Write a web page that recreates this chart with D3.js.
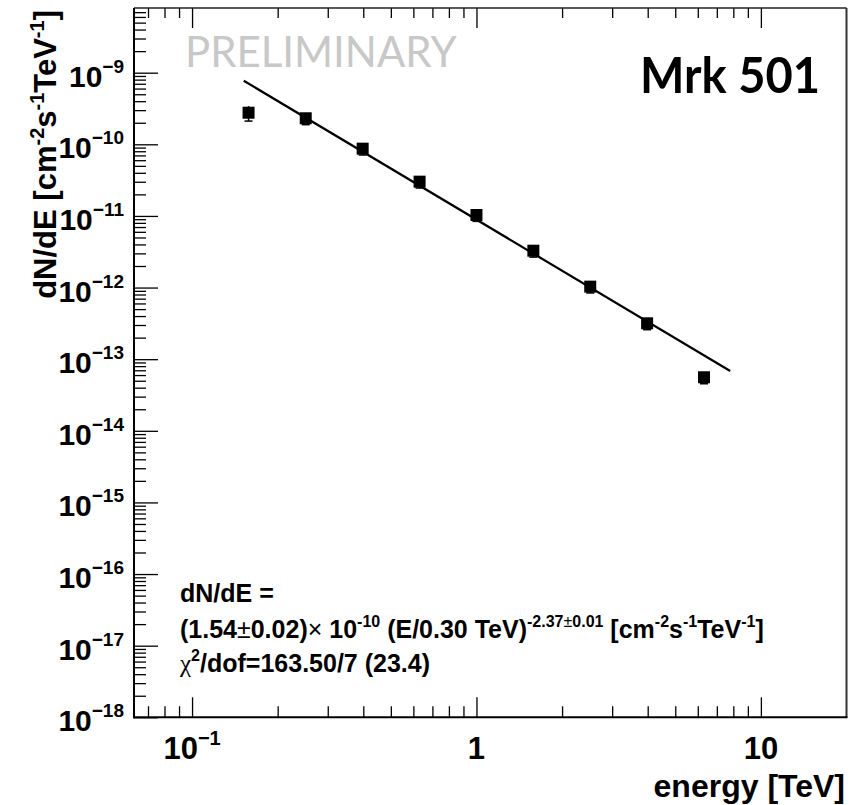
<!DOCTYPE html>
<html>
<head>
<meta charset="utf-8">
<script src="https://cdn.jsdelivr.net/npm/d3@7"></script>
<style>
  body { margin: 0; background: #fff; }
  svg { display: block; }
</style>
</head>
<body>
<svg id="chart" width="858" height="805"></svg>
<script>
// Mrk 501 differential energy spectrum
const energy   = [0.158, 0.251, 0.398, 0.631, 1.0, 1.585, 2.512, 3.981, 6.310];          // TeV
const flux     = [2.76e-10, 2.31e-10, 8.69e-11, 3.01e-11, 1.03e-11, 3.27e-12, 1.03e-12, 3.17e-13, 5.59e-14];
const fluxErr  = [0.65e-10, 0.43e-10, 1.6e-11, 5.6e-12, 1.9e-12, 6.1e-13, 1.9e-13, 5.9e-14, 1.05e-14];

// power-law fit, as printed in the fit box
const fitNorm  = 1.54e-10;
const fitE0    = 0.30;
const fitIndex = 2.37;
const fitRange = [0.152, 7.8];

const xMajorTicks = [0.1, 1, 10];
const xMajorLabels = [["10", "\u22121"], ["1", ""], ["10", ""]];
const yMajorExponents = [-18, -17, -16, -15, -14, -13, -12, -11, -10, -9];

const svg = d3.select("#chart");
const plot = { left: 134, right: 846.5, top: 8, bottom: 717.3 };

const x = d3.scaleLog().domain([0.0625, 20]).range([plot.left, plot.right]);
const y = d3.scaleLog().domain([1e-18, 8e-9]).range([plot.bottom, plot.top]);

// minor ticks: 2..9 within each decade
function minorTicks(scale) {
  const [d0, d1] = scale.domain();
  const out = [];
  for (let e = Math.floor(Math.log10(d0)); e <= Math.ceil(Math.log10(d1)); e++) {
    for (let k = 2; k <= 9; k++) {
      const v = k * Math.pow(10, e);
      if (v > d0 * 1.0001 && v < d1 * 0.9999) out.push(v);
    }
  }
  return out;
}
const yMajor = yMajorExponents.map(e => Math.pow(10, e));
const xMinor = minorTicks(x);
const yMinor = minorTicks(y);

const FONT = "'Liberation Sans', Arial, Helvetica, sans-serif";

function styleAxis(g) {
  g.selectAll(".tick line").attr("stroke", "#000").attr("stroke-width", 1.3);
  g.select(".domain").remove();
  g.selectAll("text").remove();
}

// bottom axis (ticks pointing up into the frame)
svg.append("g").attr("transform", `translate(0,${plot.bottom})`)
  .call(d3.axisBottom(x).tickValues(xMajorTicks).tickSizeInner(-20).tickSizeOuter(0).tickFormat(""))
  .call(styleAxis);
svg.append("g").attr("transform", `translate(0,${plot.bottom})`)
  .call(d3.axisBottom(x).tickValues(xMinor).tickSizeInner(-11).tickSizeOuter(0).tickFormat(""))
  .call(styleAxis);
// top axis (ticks pointing down)
svg.append("g").attr("transform", `translate(0,${plot.top})`)
  .call(d3.axisTop(x).tickValues(xMajorTicks).tickSizeInner(-20).tickSizeOuter(0).tickFormat(""))
  .call(styleAxis);
svg.append("g").attr("transform", `translate(0,${plot.top})`)
  .call(d3.axisTop(x).tickValues(xMinor).tickSizeInner(-10).tickSizeOuter(0).tickFormat(""))
  .call(styleAxis);
// left axis (ticks pointing right)
svg.append("g").attr("transform", `translate(${plot.left},0)`)
  .call(d3.axisLeft(y).tickValues(yMajor).tickSizeInner(-24).tickSizeOuter(0).tickFormat(""))
  .call(styleAxis);
svg.append("g").attr("transform", `translate(${plot.left},0)`)
  .call(d3.axisLeft(y).tickValues(yMinor).tickSizeInner(-12).tickSizeOuter(0).tickFormat(""))
  .call(styleAxis);

// frame
svg.append("line").attr("x1", plot.left).attr("x2", plot.right).attr("y1", plot.top).attr("y2", plot.top)
  .attr("stroke", "#222").attr("stroke-width", 1.5);
svg.append("line").attr("x1", plot.right).attr("x2", plot.right).attr("y1", plot.top).attr("y2", plot.bottom)
  .attr("stroke", "#333").attr("stroke-width", 2);
svg.append("line").attr("x1", plot.left).attr("x2", plot.left).attr("y1", plot.top).attr("y2", plot.bottom + 1)
  .attr("stroke", "#000").attr("stroke-width", 2);
svg.append("line").attr("x1", plot.left - 1).attr("x2", plot.right + 1).attr("y1", plot.bottom).attr("y2", plot.bottom)
  .attr("stroke", "#000").attr("stroke-width", 2);

// y tick labels 10^n
yMajorExponents.forEach(e => {
  const yy = y(Math.pow(10, e));
  const t = svg.append("text").attr("x", 124).attr("y", yy + 14)
    .attr("text-anchor", "end").attr("font-family", FONT).attr("font-weight", "bold")
    .attr("font-size", 30).attr("fill", "#000");
  t.append("tspan").text("10");
  t.append("tspan").attr("dy", -14).attr("font-size", 19).text("\u2212" + Math.abs(e));
});

// x tick labels
xMajorTicks.forEach((v, i) => {
  const [base, sup] = xMajorLabels[i];
  const t = svg.append("text").attr("x", x(v)).attr("y", 759)
    .attr("text-anchor", "middle").attr("font-family", FONT).attr("font-weight", "bold")
    .attr("font-size", 31).attr("fill", "#000");
  t.append("tspan").text(base);
  if (sup) t.append("tspan").attr("dy", -14).attr("font-size", 20).text(sup);
});

// axis titles
const yTitle = svg.append("text")
  .attr("transform", "translate(56,10) rotate(-90)")
  .attr("text-anchor", "end").attr("font-family", FONT).attr("font-weight", "bold")
  .attr("font-size", 31).attr("fill", "#000");
yTitle.append("tspan").text("dN/dE [cm");
yTitle.append("tspan").attr("dy", -12).attr("font-size", 20).text("-2");
yTitle.append("tspan").attr("dy", 12).text("s");
yTitle.append("tspan").attr("dy", -12).attr("font-size", 20).text("-1");
yTitle.append("tspan").attr("dy", 12).text("TeV");
yTitle.append("tspan").attr("dy", -12).attr("font-size", 20).text("-1");
yTitle.append("tspan").attr("dy", 12).text("]");

svg.append("text").attr("x", 845).attr("y", 797).attr("text-anchor", "end")
  .attr("font-family", FONT).attr("font-weight", "bold").attr("font-size", 32).attr("fill", "#000")
  .text("energy [TeV]");

// watermark and source name
svg.append("text").attr("x", 185).attr("y", 67)
  .attr("font-family", "Lato, 'Open Sans', sans-serif").attr("font-size", 42).attr("fill", "#c8c8c8")
  .text("PRELIMINARY");
svg.append("text").attr("x", 820).attr("y", 93).attr("text-anchor", "end")
  .attr("font-family", "Lato, 'Open Sans', sans-serif").attr("font-weight", "bold").attr("font-size", 50).attr("fill", "#000")
  .attr("textLength", 180).attr("lengthAdjust", "spacingAndGlyphs")
  .text("Mrk 501");

// fit line
const fitLine = d3.line().x(d => x(d[0])).y(d => y(d[1]));
const fitPts = fitRange.map(e => [e, fitNorm * Math.pow(e / fitE0, -fitIndex)]);
svg.append("path").datum(fitPts).attr("d", fitLine)
  .attr("fill", "none").attr("stroke", "#000").attr("stroke-width", 2.2);

// data points with error bars
const pts = energy.map((e, i) => ({ e, f: flux[i], err: fluxErr[i] }));
const gp = svg.append("g");
gp.selectAll(".err").data(pts).join("line")
  .attr("x1", d => x(d.e)).attr("x2", d => x(d.e))
  .attr("y1", d => y(d.f + d.err)).attr("y2", d => y(d.f - d.err))
  .attr("stroke", "#000").attr("stroke-width", 1.5);
gp.selectAll(".cap").data(pts).join("line")
  .attr("x1", d => x(d.e) - 4).attr("x2", d => x(d.e) + 4)
  .attr("y1", d => y(d.f - d.err)).attr("y2", d => y(d.f - d.err))
  .attr("stroke", "#000").attr("stroke-width", 1.5);
gp.selectAll(".mk").data(pts).join("rect")
  .attr("x", d => x(d.e) - 6).attr("y", d => y(d.f) - 6)
  .attr("width", 12).attr("height", 12).attr("fill", "#000");

// fit result box
const LF = 25, SF = 16, SD = 11;
const box = svg.append("g").attr("font-family", FONT).attr("font-weight", "bold")
  .attr("font-size", LF).attr("fill", "#000");
box.append("text").attr("x", 180).attr("y", 602).text("dN/dE =");
const l2 = box.append("text").attr("x", 180).attr("y", 638);
l2.append("tspan").text("(1.54");
l2.append("tspan").attr("font-weight", "normal").text("\u00b1");
l2.append("tspan").text("0.02)");
l2.append("tspan").attr("font-weight", "normal").text("\u00d7");
l2.append("tspan").text(" 10");
l2.append("tspan").attr("dy", -SD).attr("font-size", SF).text("-10");
l2.append("tspan").attr("dy", SD).text(" (E/0.30 TeV)");
l2.append("tspan").attr("dy", -SD).attr("font-size", SF).text("-2.37");
l2.append("tspan").attr("font-size", SF).attr("font-weight", "normal").text("\u00b1");
l2.append("tspan").attr("font-size", SF).text("0.01");
l2.append("tspan").attr("dy", SD).text(" [cm");
l2.append("tspan").attr("dy", -SD).attr("font-size", SF).text("-2");
l2.append("tspan").attr("dy", SD).text("s");
l2.append("tspan").attr("dy", -SD).attr("font-size", SF).text("-1");
l2.append("tspan").attr("dy", SD).text("TeV");
l2.append("tspan").attr("dy", -SD).attr("font-size", SF).text("-1");
l2.append("tspan").attr("dy", SD).text("]");
const l3 = box.append("text").attr("x", 180).attr("y", 672);
l3.append("tspan").attr("font-family", "'Liberation Serif', serif").attr("font-weight", "normal").text("\u03c7");
l3.append("tspan").attr("dy", -SD).attr("font-size", SF).text("2");
l3.append("tspan").attr("dy", SD).text("/dof=163.50/7 (23.4)");
</script>
</body>
</html>
